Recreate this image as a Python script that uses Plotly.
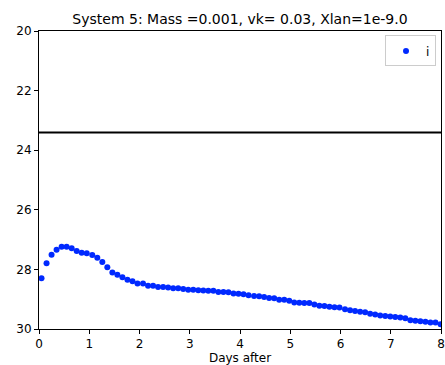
import plotly.graph_objects as go

days = [0.05, 0.15, 0.25, 0.35, 0.45, 0.55, 0.65, 0.75, 0.85, 0.95,
        1.06, 1.16, 1.26, 1.36, 1.46, 1.56, 1.66, 1.76, 1.86, 1.96,
        2.07, 2.17, 2.27, 2.37, 2.47, 2.57, 2.67, 2.77, 2.87, 2.97,
        3.07, 3.17, 3.27, 3.37, 3.47, 3.57, 3.67, 3.77, 3.87, 3.97,
        4.07, 4.17, 4.28, 4.38, 4.48, 4.58, 4.68, 4.78, 4.88, 4.98,
        5.08, 5.18, 5.28, 5.38, 5.48, 5.58, 5.68, 5.78, 5.88, 5.98,
        6.09, 6.19, 6.29, 6.39, 6.49, 6.59, 6.69, 6.79, 6.89, 6.99,
        7.09, 7.19, 7.29, 7.39, 7.49, 7.59, 7.69, 7.79, 7.89, 7.99]

mag_i = [28.30, 27.79, 27.51, 27.34, 27.24, 27.24, 27.29, 27.38, 27.44, 27.46,
         27.52, 27.61, 27.75, 27.93, 28.10, 28.18, 28.26, 28.35, 28.40, 28.47,
         28.47, 28.55, 28.55, 28.59, 28.59, 28.61, 28.63, 28.63, 28.66, 28.68,
         28.68, 28.70, 28.71, 28.72, 28.72, 28.76, 28.76, 28.77, 28.81, 28.82,
         28.83, 28.87, 28.89, 28.90, 28.93, 28.96, 28.97, 29.02, 29.02, 29.05,
         29.11, 29.12, 29.13, 29.13, 29.18, 29.22, 29.23, 29.25, 29.27, 29.28,
         29.34, 29.37, 29.40, 29.42, 29.44, 29.49, 29.51, 29.55, 29.56, 29.58,
         29.60, 29.61, 29.64, 29.71, 29.72, 29.74, 29.76, 29.78, 29.78, 29.84]

limit_x = [0, 8]
limit_mag = [23.41, 23.41]

title = "System 5: Mass =0.001, vk= 0.03, Xlan=1e-9.0"
font = "DejaVu Sans"

fig = go.Figure()
fig.add_trace(go.Scatter(x=limit_x, y=limit_mag, mode="lines",
                         line=dict(color="black", width=2), showlegend=False,
                         hoverinfo="skip"))
fig.add_trace(go.Scatter(x=days, y=mag_i, mode="markers", name="i",
                         marker=dict(color="#0029ff", size=6, line=dict(width=0))))

axis_common = dict(showgrid=False, zeroline=False, showline=True, linecolor="black",
                   linewidth=1, mirror=True, ticks="outside", ticklen=4,
                   tickcolor="black", automargin=False, ticklabeloverflow="allow",
                   tickfont=dict(family=font, size=12, color="black"))

fig.update_layout(
    width=445, height=365,
    margin=dict(l=39, r=4, t=31, b=36),
    paper_bgcolor="white", plot_bgcolor="white",
    title=dict(text=title, x=0.5, xref="paper", xanchor="center",
               y=1 - 19 / 365, yanchor="middle",
               font=dict(family=font, size=14, color="black")),
    xaxis=dict(range=[0, 8], tickvals=[0, 1, 2, 3, 4, 5, 6, 7, 8],
               title=dict(text="Days after", font=dict(family=font, size=12, color="black"),
                          standoff=5),
               **axis_common),
    yaxis=dict(range=[30, 20], tickvals=[20, 22, 24, 26, 28, 30], **axis_common),
    legend=dict(x=0.9876, y=0.985, xanchor="right", yanchor="top",
                bgcolor="white", bordercolor="#cccccc", borderwidth=1,
                font=dict(family=font, size=12, color="black"),
                itemwidth=30, tracegroupgap=0),
    showlegend=True,
)

fig.write_html("out.html")
